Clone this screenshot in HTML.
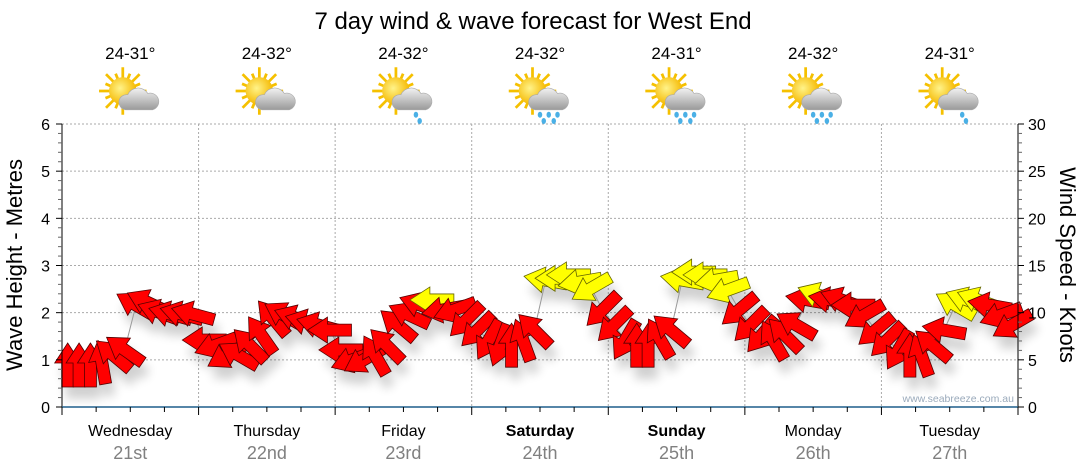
<!DOCTYPE html>
<html><head><meta charset="utf-8"><style>
body{margin:0;background:#fff;}
svg{display:block;font-family:"Liberation Sans",sans-serif;}
</style></head><body>
<svg id="chart" width="1080" height="475" viewBox="0 0 1080 475">
<defs>
<filter id="sh" x="-50%" y="-50%" width="200%" height="200%"><feGaussianBlur stdDeviation="5"/></filter>
<radialGradient id="sunG" cx="0.4" cy="0.4" r="0.6"><stop offset="0" stop-color="#fff38a"/><stop offset="1" stop-color="#f5b800"/></radialGradient>
<linearGradient id="cloudG" x1="0" y1="0" x2="0" y2="1"><stop offset="0" stop-color="#f2f2f2"/><stop offset="1" stop-color="#9a9a9a"/></linearGradient>
</defs>
<text x="533" y="29" font-size="24" text-anchor="middle" fill="#000">7 day wind &amp; wave forecast for West End</text>
<g id="grid"></g>
<g id="icons"></g>
<g id="shadows" filter="url(#sh)" opacity="0.18"></g>
<polyline id="wline" fill="none" stroke="#999" stroke-width="1"/>
<g id="arrows"></g>
<g id="axes"></g>
<text transform="translate(22,265) rotate(-90)" font-size="22" text-anchor="middle">Wave Height - Metres</text>
<text transform="translate(1060,265) rotate(90)" font-size="22" text-anchor="middle">Wind Speed - Knots</text>
<text x="1014" y="402" font-size="10.5" text-anchor="end" fill="#9aaabb">www.seabreeze.com.au</text>
</svg>
<script>
const days=["Wednesday","Thursday","Friday","Saturday","Sunday","Monday","Tuesday"];
const dates=["21st","22nd","23rd","24th","25th","26th","27th"];
const temps=["24-31°","24-32°","24-32°","24-32°","24-31°","24-32°","24-31°"];
const rain=[0,0,1,2,2,2,1];
const boldDays=[0,0,0,1,1,0,0];
const waveTicks=[0,1,2,3,4,5,6];
const windTicks=[0,5,10,15,20,25,30];
const wave=[0.89,0.89,0.89,0.95,1.10,1.21,2.16,2.22,2.01,1.97,1.97,1.97,
1.42,1.31,1.10,1.10,1.31,1.53,1.89,1.95,1.89,1.80,1.74,1.63,
1.21,1.0,1.0,1.10,1.31,1.74,1.95,2.16,2.27,2.06,2.06,1.84,
1.63,1.42,1.31,1.31,1.42,1.63,2.69,2.73,2.80,2.65,2.52,2.06,
1.74,1.42,1.31,1.31,1.46,1.63,2.69,2.86,2.80,2.69,2.48,2.06,
1.74,1.53,1.42,1.53,1.74,2.27,2.37,2.27,2.27,2.16,1.95,1.63,
1.42,1.21,1.10,1.10,1.31,1.63,2.16,2.27,2.27,2.16,1.95,1.74];
const dir=[90,90,90,80,40,35,30,25,20,15,15,15,
0,-20,-30,30,45,55,50,30,20,15,15,0,
0,-20,-30,60,45,40,25,20,0,-10,-20,-45,
-45,-60,-70,90,70,45,10,0,0,-10,-30,-45,
-45,-60,90,90,60,40,10,0,0,-10,-20,-40,
-45,-50,60,45,30,10,20,10,20,0,-30,-40,
-45,-60,90,70,40,10,30,20,20,10,-20,-30];
const wind=[10,10,10,10,11,11,12,12,12,12,12,12,
10,10,9,9,10,11,12,12,12,12,11,11,
9,8,8,9,10,11,12,13,15,13,12,12,
11,10,9,9,10,12,15,16,16,15,15,12,
11,10,9,9,10,12,15,16,16,15,15,13,
12,10,9,10,11,14,15,13,13,12,11,10,
10,9,8,8,9,11,15,15,15,13,12,11];
const X0=62,X1=1018,Y0=407,Y6=124;
const ns="http://www.w3.org/2000/svg";
function mk(t,a,p){const e=document.createElementNS(ns,t);for(const k in a)e.setAttribute(k,a[k]);(p||document.getElementById('chart')).appendChild(e);return e;}
const dayW=(X1-X0)/7;
const xs=i=>X0+(i+0.5)*dayW/12;
const ys=v=>Y0-(Y0-Y6)*v/6;
const grid=document.getElementById('grid'),axes=document.getElementById('axes'),icons=document.getElementById('icons');
waveTicks.forEach(v=>{if(v>0){const g=mk('line',{x1:X0,x2:X1,y1:ys(v),y2:ys(v),stroke:'#aaa','stroke-dasharray':'2,2'},grid);}});
for(let d=1;d<7;d++){const g=mk('line',{x1:X0+d*dayW,x2:X0+d*dayW,y1:Y6,y2:Y0,stroke:'#aaa','stroke-dasharray':'2,2'},grid);}
mk('line',{x1:X0,x2:X0,y1:Y6,y2:Y0,stroke:'#000'},axes);
mk('line',{x1:X1,x2:X1,y1:Y6,y2:Y0,stroke:'#000'},axes);
for(let k=0;k<=30;k++){const y=Y0-(Y0-Y6)*k/30;const maj=k%5==0;
mk('line',{x1:X0-(maj?6:4),x2:X0,y1:y,y2:y,stroke:maj?'#000':'#666'},axes);
mk('line',{x1:X1,x2:X1+(maj?6:4),y1:y,y2:y,stroke:maj?'#000':'#666'},axes);}
waveTicks.forEach(v=>{const t=mk('text',{x:X0-12,y:ys(v)+6,'font-size':16,'text-anchor':'end'},axes);t.textContent=v;});
windTicks.forEach(v=>{const t=mk('text',{x:X1+10,y:Y0-(Y0-Y6)*v/30+6,'font-size':16},axes);t.textContent=v;});
mk('line',{x1:X0,x2:X1,y1:Y0,y2:Y0,stroke:'#1f5f8b','stroke-width':1.5},axes);
for(let k=0;k<=28;k++){const x=X0+k*dayW/4;mk('line',{x1:x,x2:x,y1:Y0,y2:Y0+(k%4==0?8:5),stroke:'#000'},axes);}
days.forEach((d,i)=>{const cx=X0+(i+0.5)*dayW;
const t=mk('text',{x:cx,y:436,'font-size':16,'text-anchor':'middle','font-weight':boldDays[i]?'bold':'normal'},axes);t.textContent=d;
const t2=mk('text',{x:cx,y:459,'font-size':18,'text-anchor':'middle',fill:'#808080'},axes);t2.textContent=dates[i];
const t3=mk('text',{x:cx,y:59,'font-size':17,'text-anchor':'middle'},icons);t3.textContent=temps[i];
const g=mk('g',{transform:`translate(${cx},96) scale(1.25)`},icons);
for(let r=0;r<16;r++){const a=r*Math.PI/8;mk('line',{x1:-6+Math.cos(a)*10,y1:-4+Math.sin(a)*10,x2:-6+Math.cos(a)*(r%2?15:19),y2:-4+Math.sin(a)*(r%2?15:19),stroke:'#f5c000','stroke-width':2.2},g);}
mk('circle',{cx:-6,cy:-4,r:11,fill:'url(#sunG)'},g);
mk('path',{d:'M-4,11 a6,6 0 0 1 2,-12 a9,9 0 0 1 16,-1 a6.5,6.5 0 0 1 4,13 z',fill:'url(#cloudG)',stroke:'#aaa','stroke-width':0.5},g);
if(rain[i]){const pts=rain[i]==1?[[10,15],[13,20]]:[[0,15],[7,15],[14,15],[3,20],[11,20]];pts.forEach(p=>mk('ellipse',{cx:p[0],cy:p[1],rx:1.8,ry:2.4,fill:'#4ab0e6'},g));}
});
const sh=document.getElementById('shadows'),ar=document.getElementById('arrows');
const shape='M-22,0 L-2,-13 L-2,-6 L22,-6 L22,6 L-2,6 L-2,13 Z';
document.getElementById('wline').setAttribute('points',wave.map((v,i)=>xs(i)+','+ys(v)).join(' '));
wave.forEach((v,i)=>{
const s=mk('path',{d:shape,transform:`translate(${xs(i)+4},${ys(v)+12}) rotate(${dir[i]})`,fill:'#000'},sh);

const a=mk('path',{d:shape,transform:`translate(${xs(i)},${ys(v)}) rotate(${dir[i]})`,fill:wind[i]>=15?'#ffff00':'#ff0000',stroke:wind[i]>=15?'#666600':'#550000','stroke-width':0.8},ar);

});
</script>
</body></html>
